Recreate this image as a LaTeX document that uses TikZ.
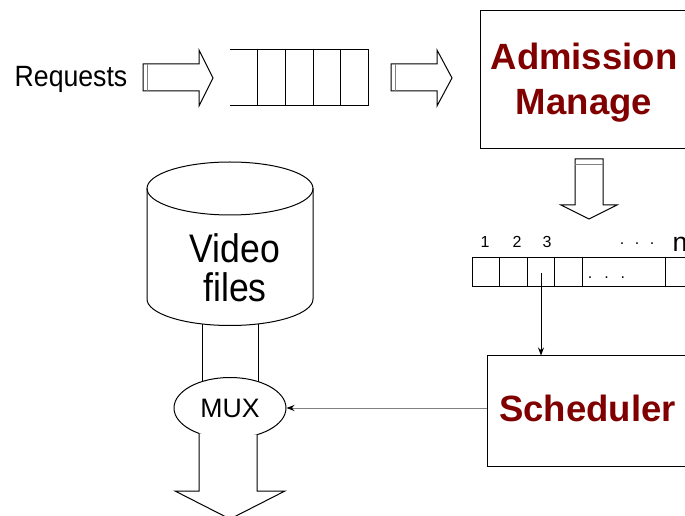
\documentclass[tikz,border=0pt]{standalone}
\usepackage{fontspec}
\setmainfont{Liberation Sans}
\usetikzlibrary{arrows.meta,shapes.geometric}
\definecolor{admred}{HTML}{800000}
\begin{document}
\begin{tikzpicture}[x=0.75pt,y=-0.75pt,line width=0.75pt,
  blockarrow/.style={draw=black,fill=white,line join=miter},
  tabline/.style={draw=gray,line width=0.6pt},
  framebox/.style={draw,rectangle,inner sep=0pt},
  redtext/.style={inner sep=0pt,text=admred,align=center,
    font=\fontsize{27.4}{33.75}\selectfont\bfseries},
  plain/.style={inner sep=0pt,anchor=base},
  smallarrow/.style={-{Stealth[length=6pt,width=4.5pt]}}]
\clip (0,0) rectangle (685,516);
\fill[white] (0,0) rectangle (685,516);

% incoming requests
\node[plain,font=\fontsize{20}{24}\selectfont] (req) at (71,87) {\scalebox{1}[1.1]{Requests}};
\draw[blockarrow] (143,64) -- (199,64) -- (199,50) -- (213,78) -- (199,106) -- (199,91) -- (143,91) -- cycle;
\draw[tabline] (147,64) -- (147,91);

% request queue (open at its tail)
\draw (230,50) -- (368,50) -- (368,106) -- (230,106);
\foreach \x in {257.7,285,313,340} \draw (\x,50) -- (\x,106);

\draw[blockarrow] (391,64) -- (437,64) -- (437,50) -- (452,78) -- (437,106) -- (437,91) -- (391,91) -- cycle;
\draw[tabline] (395,64) -- (395,91);

% admission manager
\node[framebox,minimum width=156pt,minimum height=103.5pt] (adm) at (584,80) {};
\node[redtext] (admtext) at (584,83) {Admission\\Manage};

\draw[blockarrow] (575,159) -- (603,159) -- (603,205) -- (617,205) -- (589,219) -- (561,205) -- (575,205) -- cycle;
\draw[tabline] (575,164) -- (603,164);

% slot array
\foreach \n/\x in {1/485,2/517,3/547}
  \node[plain,font=\fontsize{12}{14}\selectfont] (num\n) at (\x,248) {\n};
\node[plain,font=\fontsize{12}{14}\selectfont] (topdots) at (637,245) {.\hspace{7.9pt}.\hspace{7.9pt}.};
\node[plain,font=\fontsize{20}{24}\selectfont] (numn) at (680,252) {n};
\draw (472,258) rectangle (700,287);
\foreach \x in {499,527,554,582,665} \draw (\x,258) -- (\x,287);
\node[plain,font=\fontsize{12}{14}\selectfont] (celldots) at (606.5,279) {.\hspace{9pt}.\hspace{9pt}.};
\coordinate (slot3) at (541,273);

% scheduler
\node[framebox,minimum width=150.75pt,minimum height=82.5pt] (sched) at (587.5,411) {};
\node[redtext] (schedtext) at (587.5,408) {Scheduler};
\draw[smallarrow] (slot3) -- (slot3 |- sched.north);

% video store
\draw[fill=white] (147,188.5) -- (147,299) arc[start angle=180,end angle=0,x radius=83,y radius=26.5]
  -- (313,188.5);
\draw (230,188.5) ellipse[x radius=83,y radius=26.5];
\node[inner sep=0pt,align=center,font=\fontsize{26.7}{29.5}\selectfont] (video) at (235,268)
  {\scalebox{1}[1.12]{Video}\\\scalebox{1}[1.12]{files}};

% multiplexer
\node[draw,ellipse,inner sep=0pt,minimum width=84pt,minimum height=45.75pt,
  font=\fontsize{20}{24}\selectfont] (mux) at (230,408) {MUX};
\draw (202,324) -- (202,381.6);
\draw (258,324) -- (258,381.6);
\draw[blockarrow] (199,433.4) -- (199,491) -- (175,491) -- (230,519) -- (285,491) -- (257,491) -- (257,434.7);
\draw[gray,arrows={-{Stealth[length=6pt,width=4.5pt,black]}}] (mux.east -| sched.west) -- (mux.east);
\end{tikzpicture}
\end{document}
